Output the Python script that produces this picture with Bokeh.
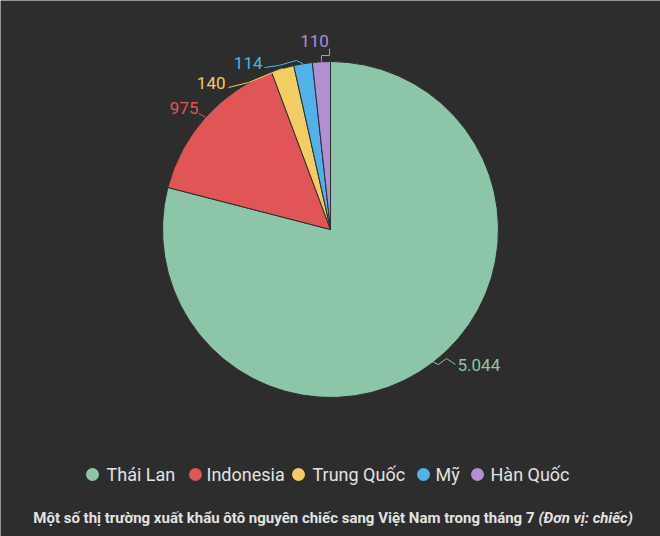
import math
from bokeh.plotting import figure
from bokeh.models import Range1d, ColumnDataSource
from bokeh.core.properties import value
from bokeh.embed import file_html
from bokeh.resources import INLINE

# ---- data ----
categories = ["Thái Lan", "Indonesia", "Trung Quốc", "Mỹ", "Hàn Quốc"]
values = [5044, 975, 140, 114, 110]
value_labels = ["5.044", "975", "140", "114", "110"]
colors = ["#8cc5a8", "#e05656", "#f3cd63", "#4fb2e8", "#b18fd0"]

title_main = "Một số thị trường xuất khẩu ôtô nguyên chiếc sang Việt Nam trong tháng 7"
title_unit = "(Đơn vị: chiếc)"

BG = "#2d2d2d"
TXT = "#e2e2e2"
W, H = 660, 536
FONT = "Roboto"


def P(px, py):
    """page pixel -> data coords"""
    return px, H - py


p = figure(width=W, height=H, output_backend="svg", toolbar_location=None,
           x_range=Range1d(0, W), y_range=Range1d(0, H),
           background_fill_color=BG, border_fill_color=BG,
           min_border=0, outline_line_color=None)
p.axis.visible = False
p.grid.visible = False

cx, cy = P(330, 229)
R = 168

total = sum(values)
starts, ends, mids = [], [], []
acc = 0.0
for v in values:
    a0 = math.pi / 2 - 2 * math.pi * acc / total
    acc += v
    a1 = math.pi / 2 - 2 * math.pi * acc / total
    starts.append(a0)
    ends.append(a1)
    mids.append((a0 + a1) / 2)

src = ColumnDataSource(dict(start=starts, end=ends, color=colors, cat=categories))
p.wedge(x=cx, y=cy, radius=R, start_angle="start", end_angle="end",
        direction="clock", fill_color="color", line_color=BG, line_width=1,
        source=src)

# leader lines + value labels (layout offsets in page pixels)
label_pos = [(457, 364, "left"), (198, 107, "right"), (225, 82, "right"),
             (262, 62, "right"), (314, 40, "center")]
elbows = [
    [(438, 364), (446, 358), (455, 364)],
    [(198, 113)],
    [(248, 82), (228, 87)],
    [(296, 60), (278, 65), (264, 67)],
    [(321, 55), (329, 55), (329, 48)],
]
for i in range(len(values)):
    ex = cx + R * math.cos(mids[i])
    ey = cy + R * math.sin(mids[i])
    xs = [ex] + [P(a, b)[0] for a, b in elbows[i]]
    ys = [ey] + [P(a, b)[1] for a, b in elbows[i]]
    p.line(xs, ys, line_color=colors[i], line_width=1)
    lx, ly = P(label_pos[i][0], label_pos[i][1])
    p.text(x=[lx], y=[ly], text=[value_labels[i]], text_color=colors[i],
           text_font=value(FONT), text_font_size="17px",
           text_align=label_pos[i][2], text_baseline="middle")

# legend
leg_circle_x = [92, 195, 298, 423, 477]
leg_text_x = [106, 206, 312, 435, 490]
leg_y = 474
for i in range(len(categories)):
    x0, y0 = P(leg_circle_x[i], leg_y)
    p.scatter(x=[x0], y=[y0], size=13, marker="circle", fill_color=colors[i], line_color=None)
    tx, ty = P(leg_text_x[i], leg_y)
    p.text(x=[tx], y=[ty], text=[categories[i]], text_color=TXT,
           text_font=value(FONT), text_font_size="18px",
           text_align="left", text_baseline="middle")

# title
tx, ty = P(534, 517)
p.text(x=[tx], y=[ty], text=[title_main], text_color=TXT, text_font=value(FONT),
       text_font_size="15px", text_font_style="bold", text_align="right",
       text_baseline="middle")
tx2, _ = P(538, 517)
p.text(x=[tx2], y=[ty], text=[title_unit], text_color=TXT, text_font=value(FONT),
       text_font_size="15px", text_font_style="bold italic", text_align="left",
       text_baseline="middle")

open("out.html", "w").write(file_html(p, INLINE))
